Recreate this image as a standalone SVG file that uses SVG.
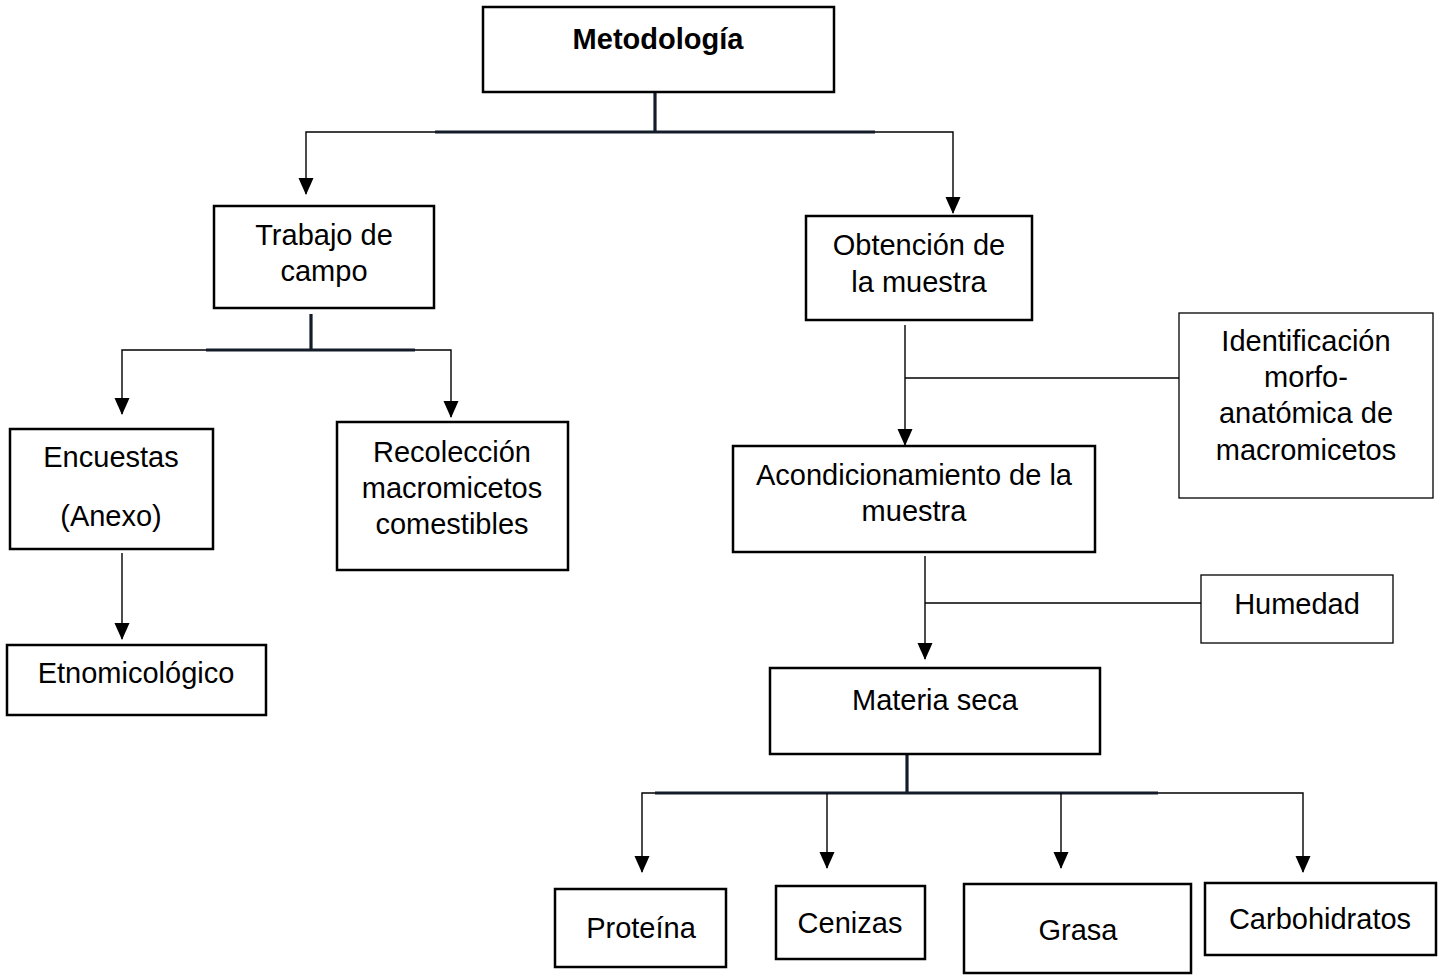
<svg xmlns="http://www.w3.org/2000/svg" width="1439" height="975" viewBox="0 0 1439 975">
<defs>
<marker id="ah" markerWidth="18" markerHeight="16" refX="16" refY="7.5" orient="auto" markerUnits="userSpaceOnUse">
<path d="M0,0 L17,7.5 L0,15 Z" fill="#000"/>
</marker>
<style>
.box{fill:#fff;stroke:#000;stroke-width:2.5}
.tbox{fill:#fff;stroke:#000;stroke-width:1.3}
.t{font-family:"Liberation Sans",Arial,sans-serif;font-size:29px;fill:#000;text-anchor:middle}
.b{font-weight:bold;font-size:29px}
.thin{fill:none;stroke:#000;stroke-width:1.4}
.bar{fill:none;stroke:#141c2a;stroke-width:3.2}
</style>
</defs>
<rect width="1439" height="975" fill="#fff"/>
<g id="connectors">
<line class="bar" x1="655" y1="92" x2="655" y2="132"/>
<line class="bar" x1="435" y1="132" x2="875" y2="132"/>
<polyline class="thin" points="435,132 306,132 306,194" marker-end="url(#ah)"/>
<polyline class="thin" points="875,132 953,132 953,213" marker-end="url(#ah)"/>
<line class="bar" x1="311" y1="314" x2="311" y2="350"/>
<line class="bar" x1="206" y1="350" x2="415" y2="350"/>
<polyline class="thin" points="206,350 122,350 122,414" marker-end="url(#ah)"/>
<polyline class="thin" points="415,350 451,350 451,417" marker-end="url(#ah)"/>
<line class="thin" x1="122" y1="553" x2="122" y2="639" marker-end="url(#ah)"/>
<line class="thin" x1="905" y1="325" x2="905" y2="445" marker-end="url(#ah)"/>
<line class="thin" x1="905" y1="378" x2="1179" y2="378"/>
<line class="thin" x1="925" y1="556" x2="925" y2="659" marker-end="url(#ah)"/>
<line class="thin" x1="925" y1="603" x2="1201" y2="603"/>
<line class="bar" x1="907" y1="754" x2="907" y2="793"/>
<line class="bar" x1="655" y1="793" x2="1158" y2="793"/>
<polyline class="thin" points="655,793 642,793 642,872" marker-end="url(#ah)"/>
<line class="thin" x1="827" y1="793" x2="827" y2="868" marker-end="url(#ah)"/>
<line class="thin" x1="1061" y1="793" x2="1061" y2="868" marker-end="url(#ah)"/>
<polyline class="thin" points="1158,793 1303,793 1303,872" marker-end="url(#ah)"/>
</g>
<g id="metodologia"><rect class="box" x="483" y="7" width="351" height="85"/><text class="t b" x="658" y="49">Metodología</text></g>
<g id="trabajo"><rect class="box" x="214" y="206" width="220" height="102"/><text class="t" x="324" y="245">Trabajo de</text><text class="t" x="324" y="281">campo</text></g>
<g id="obtencion"><rect class="box" x="806" y="216" width="226" height="104"/><text class="t" x="919" y="255">Obtención de</text><text class="t" x="919" y="292">la muestra</text></g>
<g id="encuestas"><rect class="box" x="10" y="429" width="203" height="120"/><text class="t" x="111" y="467">Encuestas</text><text class="t" x="111" y="526">(Anexo)</text></g>
<g id="recoleccion"><rect class="box" x="337" y="422" width="231" height="148"/><text class="t" x="452" y="462">Recolección</text><text class="t" x="452" y="498">macromicetos</text><text class="t" x="452" y="534">comestibles</text></g>
<g id="etnomicologico"><rect class="box" x="7" y="645" width="259" height="70"/><text class="t" x="136" y="683">Etnomicológico</text></g>
<g id="identificacion"><rect class="tbox" x="1179" y="313" width="254" height="185"/><text class="t" x="1306" y="351">Identificación</text><text class="t" x="1306" y="387">morfo-</text><text class="t" x="1306" y="423">anatómica de</text><text class="t" x="1306" y="460">macromicetos</text></g>
<g id="acondicionamiento"><rect class="box" x="733" y="446" width="362" height="106"/><text class="t" x="914" y="485">Acondicionamiento de la</text><text class="t" x="914" y="521">muestra</text></g>
<g id="humedad"><rect class="tbox" x="1201" y="575" width="192" height="68"/><text class="t" x="1297" y="614">Humedad</text></g>
<g id="materia"><rect class="box" x="770" y="668" width="330" height="86"/><text class="t" x="935" y="710">Materia seca</text></g>
<g id="proteina"><rect class="box" x="555" y="889" width="171" height="78"/><text class="t" x="641" y="938">Proteína</text></g>
<g id="cenizas"><rect class="box" x="776" y="886" width="149" height="73"/><text class="t" x="850" y="933">Cenizas</text></g>
<g id="grasa"><rect class="box" x="964" y="884" width="227" height="89"/><text class="t" x="1078" y="940">Grasa</text></g>
<g id="carbohidratos"><rect class="box" x="1205" y="883" width="231" height="72"/><text class="t" x="1320" y="929">Carbohidratos</text></g>
</svg>
